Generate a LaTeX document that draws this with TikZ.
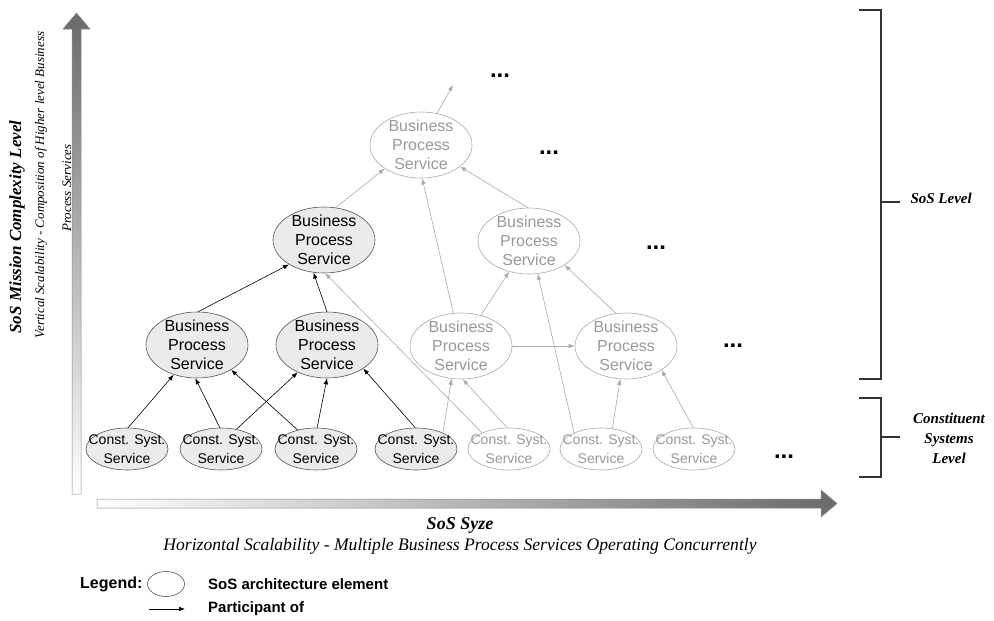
\documentclass[tikz,border=0pt]{standalone}
\usepackage{fontspec}
\setmainfont{Liberation Serif}
\setsansfont{Liberation Sans}
\usetikzlibrary{shapes.geometric,arrows.meta}

\definecolor{activefill}{HTML}{EBEBEB}
\definecolor{activeline}{HTML}{555555}
\definecolor{fadedline}{HTML}{AAAAAA}
\definecolor{fadedtext}{HTML}{999999}
\definecolor{axisgrey}{HTML}{6A6A6A}
\definecolor{axisedge}{HTML}{8C8C8C}
\definecolor{bracket}{HTML}{333333}

\tikzset{
  bps/.style={ellipse, minimum width=102pt, minimum height=66pt,
    inner xsep=0pt, inner ysep=-10pt, align=center,
    font=\sffamily\fontsize{16}{19}\selectfont},
  css/.style={ellipse, minimum width=82pt, minimum height=42pt,
    inner xsep=-14pt, inner ysep=-8pt, align=center,
    font=\sffamily\fontsize{14}{19}\selectfont},
  active/.style={draw=activeline, fill=activefill, text=black, line width=0.6pt},
  faded/.style={draw=fadedline, fill=white, text=fadedtext, line width=0.6pt},
  link/.style={-{Latex[length=6pt,width=4.5pt]}, draw=black, line width=0.6pt},
  fadedlink/.style={-{Latex[length=6pt,width=4.5pt]}, draw=fadedline, line width=0.6pt},
  more/.style={font=\sffamily\bfseries\fontsize{24}{24}\selectfont, inner sep=0pt},
  axislabel/.style={font=\fontsize{13}{16}\selectfont\itshape},
  axistitle/.style={font=\fontsize{17}{20}\selectfont\bfseries\itshape},
  levellabel/.style={font=\fontsize{15}{20}\selectfont\bfseries\itshape, align=center},
  legendtext/.style={font=\sffamily\bfseries\fontsize{15}{18}\selectfont, anchor=west, inner sep=0pt},
}

\begin{document}
\begin{tikzpicture}[x=1pt, y=-1pt]
\useasboundingbox (0,0) rectangle (994,621);
\fill[white] (0,0) rectangle (994,621);

% axes
\shadedraw[bottom color=white, top color=axisgrey, draw=axisedge, line width=0.5pt]
  (72,494) -- (72,29) -- (63,29) -- (76.5,13) -- (90,29) -- (81,29) -- (81,494) -- cycle;
\shadedraw[left color=white, right color=axisgrey, draw=axisedge, line width=0.5pt]
  (97,499) -- (821,499) -- (821,490) -- (837,503.5) -- (821,517) -- (821,508) -- (97,508) -- cycle;

\node[axistitle, rotate=90, anchor=base] (vtitle) at (21,227) {SoS Mission Complexity Level};
\node[axislabel, rotate=90, anchor=base] (vsub1) at (44,185) {Vertical Scalability - Composition of Higher level Business};
\node[axislabel, rotate=90, anchor=base] (vsub2) at (71,188) {Process Services};
\node[axistitle, font=\fontsize{18}{20}\selectfont\bfseries\itshape] (htitle) at (460,525) {SoS Syze};
\node[axislabel, font=\fontsize{17.6}{20}\selectfont\itshape] (hsub) at (460,546)
  {Horizontal Scalability - Multiple Business Process Services Operating Concurrently};

% level brackets
\draw[bracket, line width=1.3pt] (859,10) -- (881,10) -- (881,379) -- (859,379);
\draw[bracket, line width=1.3pt] (881,202) -- (900,202);
\draw[bracket, line width=1.3pt] (859,398) -- (881,398) -- (881,477) -- (859,477);
\draw[bracket, line width=1.3pt] (881,437) -- (900,437);
\node[levellabel, anchor=west] (soslevel) at (907,198) {SoS Level};
\node[levellabel] (cslevel) at (949,438) {Constituent\\Systems\\Level};

% business process services
\node[bps, active] (bpsA) at (324,240) {Business\\Process\\Service};
\node[bps, active] (bpsB) at (197,345) {Business\\Process\\Service};
\node[bps, active] (bpsC) at (327,345) {Business\\Process\\Service};
\node[bps, faded]  (bpsD) at (421,145) {Business\\Process\\Service};
\node[bps, faded]  (bpsE) at (529,241) {Business\\Process\\Service};
\node[bps, faded]  (bpsF) at (461,346) {Business\\Process\\Service};
\node[bps, faded]  (bpsG) at (626,346) {Business\\Process\\Service};

% constituent system services
\node[css, active] (css1) at (127,449) {Const. Syst.\\Service};
\node[css, active] (css2) at (221,449) {Const. Syst.\\Service};
\node[css, active] (css3) at (316,449) {Const. Syst.\\Service};
\node[css, active] (css4) at (416,449) {Const. Syst.\\Service};
\node[css, faded]  (css5) at (509,449) {Const. Syst.\\Service};
\node[css, faded]  (css6) at (601,449) {Const. Syst.\\Service};
\node[css, faded]  (css7) at (694,449) {Const. Syst.\\Service};

\coordinate (upward) at (453,85);

% continuation marks
\node[more] (more1) at (500,76) {...};
\node[more] (more2) at (549,153) {...};
\node[more] (more3) at (656,248) {...};
\node[more] (more4) at (733,346) {...};
\node[more] (more5) at (784,457) {...};

% participation links (active)
\draw[link] (css1.87)  -- (bpsB.232);
\draw[link] (css2.93)  -- (bpsB.267);
\draw[link] (css3.134) -- (bpsB.324);
\draw[link] (css2.52)  -- (bpsC.223);
\draw[link] (css3.87)  -- (bpsC.270);
\draw[link] (css4.92)  -- (bpsC.327);
\draw[link] (bpsB.88)  -- (bpsA.215);
\draw[link] (bpsC.90)  -- (bpsA.252);

% participation links (faded)
\draw[fadedlink] (css4.31)  -- (bpsF.254);
\draw[fadedlink] (css5.149) -- (bpsA.272);
\draw[fadedlink] (css5.95)  -- (bpsF.273);
\draw[fadedlink] (css6.149) -- (bpsE.285);
\draw[fadedlink] (css6.61)  -- (bpsG.260);
\draw[fadedlink] (css7.92)  -- (bpsG.326);
\draw[fadedlink] (bpsF.0)   -- (bpsG.180);
\draw[fadedlink] (bpsF.57)  -- (bpsE.237);
\draw[fadedlink] (bpsF.103) -- (bpsD.272);
\draw[fadedlink] (bpsG.107) -- (bpsE.326);
\draw[fadedlink] (bpsE.92)  -- (bpsD.331);
\draw[fadedlink] (bpsA.70)  -- (bpsD.213);
\draw[fadedlink] (bpsD.63)  -- (upward);

% legend
\node[legendtext, font=\sffamily\bfseries\fontsize{16}{18}\selectfont] (legend) at (80,584) {Legend:};
\node[ellipse, draw=activeline, line width=0.6pt, minimum width=37pt, minimum height=25pt, inner sep=0pt] (legendshape) at (166,584) {};
\node[legendtext] (legendshapetext) at (208,584) {SoS architecture element};
\coordinate (legendtail) at (149,609);
\coordinate (legendhead) at (185,609);
\draw[link] (legendtail) -- (legendhead);
\node[legendtext] (legendlinktext) at (208,609) {Participant of};
\end{tikzpicture}
\end{document}
